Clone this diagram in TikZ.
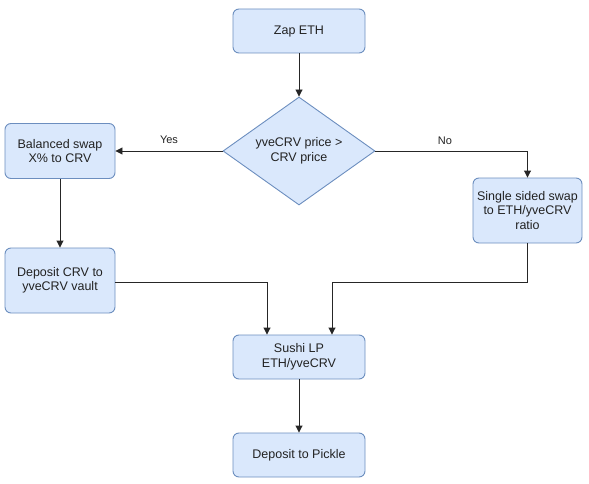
\documentclass[tikz,border=0pt]{standalone}
\usepackage{fontspec}
\setmainfont{Liberation Sans}
\usetikzlibrary{shapes.geometric,arrows.meta}
\definecolor{boxfill}{HTML}{DAE8FC}
\definecolor{boxline}{HTML}{6C8EBF}
\definecolor{txt}{HTML}{222222}
\begin{document}
\begin{tikzpicture}[x=1pt,y=-1pt,
  box/.style={draw=boxline,fill=boxfill,rounded corners=6pt,line width=0.9pt,
    align=center,inner sep=0pt,font=\fontsize{12.5}{14.5}\selectfont,text=txt},
  dec/.style={draw=boxline,fill=boxfill,diamond,line width=0.9pt,align=center,
    inner sep=-4pt,font=\fontsize{12.5}{14.5}\selectfont,text=txt,
    minimum width=152pt,minimum height=108pt},
  arr/.style={draw=black!85,line width=0.9pt,-{Triangle[length=7pt,width=7pt]}},
  lbl/.style={font=\fontsize{11}{13}\selectfont,text=txt,inner sep=0pt}]
\useasboundingbox (0,0) rectangle (589,484);
\node[box,minimum width=132pt,minimum height=44pt] (zap) at (299,31) {Zap ETH};
\node[dec] (dia) at (299,151) {yveCRV price >\\CRV price};
\node[box,minimum width=110pt,minimum height=55pt] (bal) at (60,151) {Balanced swap\\X\% to CRV};
\node[box,minimum width=110pt,minimum height=65pt] (dep) at (60,280.5) {Deposit CRV to\\yveCRV vault};
\node[box,minimum width=109pt,minimum height=65pt] (sgl) at (527.5,210.5) {Single sided swap\\to ETH/yveCRV\\ratio};
\node[box,minimum width=132pt,minimum height=44pt] (lp) at (299,357) {Sushi LP\\ETH/yveCRV};
\node[box,minimum width=132pt,minimum height=44pt] (pk) at (299,455) {Deposit to Pickle};
\node[lbl] (yes) at (169,140) {Yes};
\node[lbl] (no) at (445,141) {No};
\coordinate (jl) at (267,282);
\coordinate (jr) at (332,282);
\draw[arr] (zap) -- (dia);
\draw[arr] (dia.west) -- (bal.east);
\draw[arr] (dia.east) -| (sgl.north);
\draw[arr] (bal) -- (dep);
\draw[arr] (dep.east |- jl) -- (jl) -- (jl |- lp.north);
\draw[arr] (sgl.south) |- (jr) -- (jr |- lp.north);
\draw[arr] (lp) -- (pk);
\end{tikzpicture}
\end{document}
